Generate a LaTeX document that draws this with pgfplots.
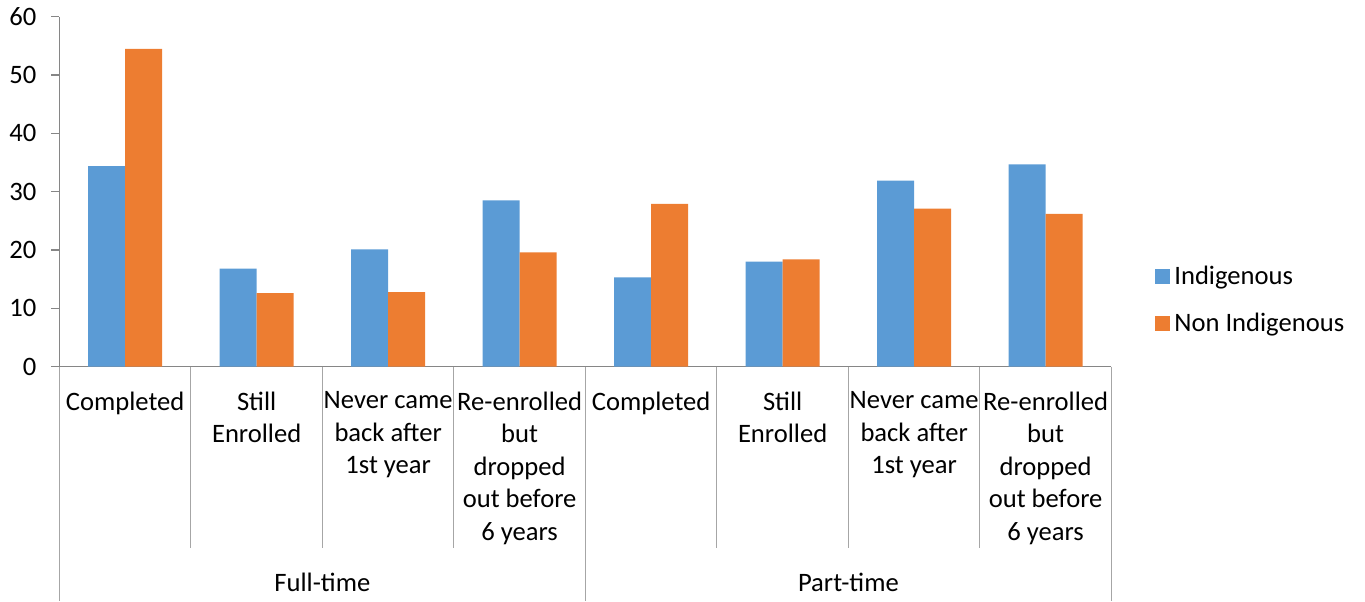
\documentclass[border=0pt]{standalone}
\usepackage{pgfplots}
\pgfplotsset{compat=1.18}
\usepackage{fontspec}
\setmainfont{Carlito}
\definecolor{cblue}{HTML}{5B9BD5}
\definecolor{corange}{HTML}{ED7D31}
\definecolor{axgray}{HTML}{868686}
\definecolor{sepgray}{HTML}{A6A6A6}
\newcommand{\lblfont}{\fontsize{13.3}{16.25}\selectfont}
\begin{document}
\begin{tikzpicture}
\path[use as bounding box] (-29.7pt,-117.15pt) rectangle (652.8pt,183.35pt);
\begin{axis}[
  at={(0,0)}, anchor=south west,
  scale only axis, width=526pt, height=175pt,
  xmin=0, xmax=8, ymin=0, ymax=60,
  enlargelimits=false, clip=false,
  ybar=0pt, bar width=18.5pt,
  axis lines*=left,
  axis line style={axgray, line width=0.75pt},
  xtick={0.5,1.5,2.5,3.5,4.5,5.5,6.5,7.5},
  xticklabels={Completed, {Still\\Enrolled}, {Never came\\back after\\1st year}, {Re-enrolled\\but\\dropped\\out before\\6 years},
               Completed, {Still\\Enrolled}, {Never came\\back after\\1st year}, {Re-enrolled\\but\\dropped\\out before\\6 years}},
  x tick style={draw=none},
  xticklabel style={align=center, anchor=north, yshift=-5pt, font=\lblfont},
  ytick={0,10,...,60},
  y tick style={axgray, line width=0.75pt},
  tick align=outside, major tick length=4pt,
  yticklabel style={font=\lblfont, xshift=-4pt},
  /pgf/number format/assume math mode=true,
  legend style={at={(1.0414,0.19)}, anchor=west, draw=none, fill=none, font=\lblfont, row sep=9pt, inner sep=0pt},
  legend cell align=left,
]
\addplot[fill=cblue, draw=none, legend image code/.code={\fill[cblue] (0pt,-3.75pt) rectangle (7.5pt,3.75pt);}] coordinates {
 (0.5,34.4) (1.5,16.8) (2.5,20.1) (3.5,28.5) (4.5,15.3) (5.5,18.0) (6.5,31.9) (7.5,34.7)};
\addlegendentry{Indigenous}
\addplot[fill=corange, draw=none, legend image code/.code={\fill[corange] (0pt,-3.75pt) rectangle (7.5pt,3.75pt);}] coordinates {
 (0.5,54.5) (1.5,12.6) (2.5,12.8) (3.5,19.6) (4.5,27.9) (5.5,18.4) (6.5,27.1) (7.5,26.2)};
\addlegendentry{Non Indigenous}
\pgfplotsinvokeforeach{1,2,3,5,6,7}{\draw[sepgray, line width=0.6pt] (axis cs:#1,0) -- ++(0pt,-90.65pt);}
\pgfplotsinvokeforeach{0,4,8}{\draw[sepgray, line width=0.6pt] (axis cs:#1,0) -- ++(0pt,-117.15pt);}
\node[anchor=base, font=\lblfont] at (axis cs:2,0) [yshift=-112.3pt] {Full-time};
\node[anchor=base, font=\lblfont] at (axis cs:6,0) [yshift=-112.3pt] {Part-time};
\end{axis}
\end{tikzpicture}
\end{document}
